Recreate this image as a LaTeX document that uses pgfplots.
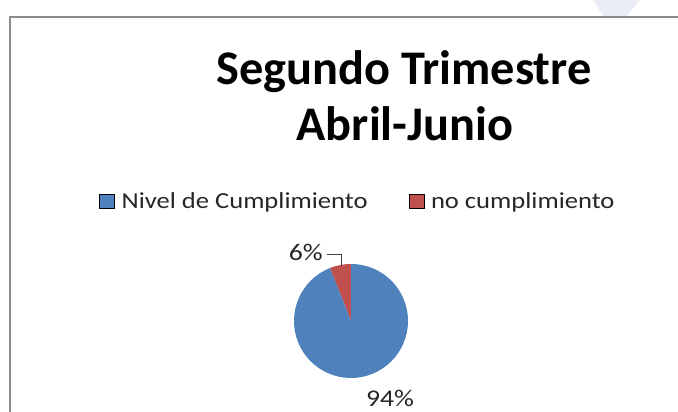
\documentclass[border=0pt]{standalone}
\usepackage{pgfplots}
\usepackage{pgfplotstable}
\pgfplotsset{compat=1.18}
\usepackage{fontspec}
\setmainfont{Carlito}
\newfontfamily\ancho[FakeStretch=1.16]{Carlito}
\definecolor{nivel}{HTML}{4F81BD}
\definecolor{nocump}{HTML}{C0504D}
\definecolor{marco}{HTML}{8C8C8C}
\definecolor{deco}{HTML}{EAEDF5}

% porcentaje de cada parte (pastel)
\pgfplotstableread{
parte valor
nivel 94
nocump 6
}\pastel
\pgfplotstablegetelem{0}{valor}\of\pastel \let\vNivel\pgfplotsretval
\pgfplotstablegetelem{1}{valor}\of\pastel \let\vNo\pgfplotsretval

\begin{document}
\begin{tikzpicture}
\begin{axis}[
  at={(0,0)}, anchor=south west,
  scale only axis, width=678bp, height=412bp,
  xmin=0, xmax=678, ymin=0, ymax=412,
  hide axis, clip=false,
  legend columns=2,
  legend image code/.code={\fill[#1] (0bp,-7bp) rectangle (15bp,7bp);},
  legend style={at={(axis cs:99,211)}, anchor=west, draw=none, fill=none,
    font=\ancho\fontsize{23}{27}\selectfont, inner sep=0pt,
    nodes={inner sep=2bp, text=black!85},
    /tikz/every odd column/.append style={column sep=5bp},
    /tikz/every even column/.append style={column sep=39bp}},
]
\addlegendimage{fill=nivel}
\addlegendentry{Nivel de Cumplimiento}
\addlegendimage{fill=nocump}
\addlegendentry{no cumplimiento}

% marco del grafico
\fill[deco] (axis cs:593,412) -- (axis cs:640,412) -- (axis cs:626,395) -- (axis cs:604,395) -- cycle;
\draw[marco, line width=1.6bp] (axis cs:10,0) -- (axis cs:10,395) -- (axis cs:678,395);

% titulo
\node[anchor=base, font=\bfseries\fontsize{48.5}{56}\selectfont] at (axis cs:404,327) {Segundo Trimestre};
\node[anchor=base, font=\bfseries\fontsize{48.5}{56}\selectfont] at (axis cs:405,271) {Abril-Junio};

% pastel: centro (351,91), radio 57
\fill[nocump] (axis cs:351,91) -- ++(90:57bp)
  arc[start angle=90, end angle={90+3.6*\vNo}, radius=57bp] -- cycle;
\fill[nivel] (axis cs:351,91) -- ++({90+3.6*\vNo}:57bp)
  arc[start angle={90+3.6*\vNo}, end angle={90+3.6*(\vNo+\vNivel)}, radius=57bp] -- cycle;

% etiquetas
\draw[black!75, line width=0.8bp] (axis cs:327,158) -- (axis cs:341,158) -- (axis cs:341,146);
\node[anchor=east, inner sep=0pt, text=black!85, font=\ancho\fontsize{24}{28}\selectfont] at (axis cs:323,160) {\vNo\%};
\node[anchor=center, inner sep=0pt, text=black!85, font=\ancho\fontsize{24}{28}\selectfont] at (axis cs:390,14) {\vNivel\%};
\end{axis}
\pgfresetboundingbox
\path[use as bounding box] (0,0) rectangle (678bp,412bp);
\end{tikzpicture}
\end{document}
